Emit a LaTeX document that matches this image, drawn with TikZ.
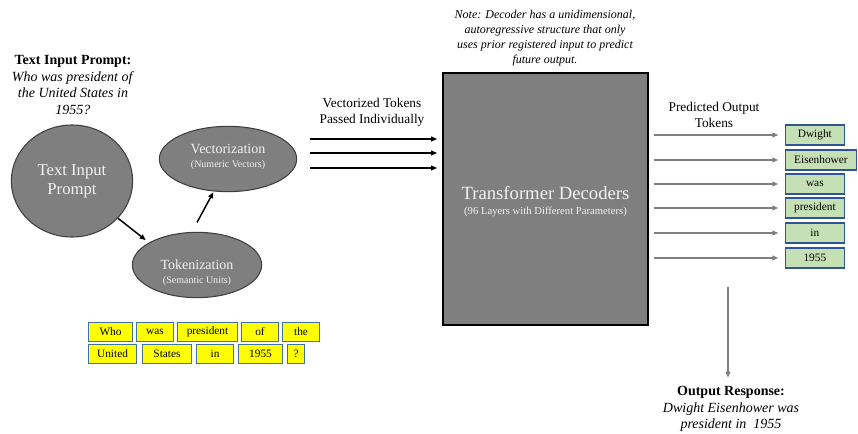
\documentclass[tikz,border=0pt]{standalone}
\usepackage{fontspec}
\setmainfont{Liberation Serif}
\usepackage{tikz}
\usetikzlibrary{arrows.meta,shapes.geometric}
\usepackage{xcolor}
\definecolor{StageGray}{HTML}{7F7F7F}
\definecolor{StageEdge}{HTML}{3F3F3F}
\definecolor{StageText}{HTML}{F2F2F2}
\definecolor{TokenYellow}{HTML}{FFFF00}
\definecolor{TokenEdge}{HTML}{41719C}
\definecolor{OutGreen}{HTML}{C5E0B4}
\definecolor{OutEdge}{HTML}{2F5597}

\begin{document}
\begin{tikzpicture}[x=0.75pt,y=-0.75pt,
    stage/.style={ellipse,draw=StageEdge,fill=StageGray,line width=0.8pt,text=StageText,inner sep=0pt,align=center},
    inword/.style={draw=TokenEdge,fill=TokenYellow,line width=0.8pt,minimum height=14.5pt,inner sep=0pt,anchor=west,font=\fontsize{8.5}{10}\selectfont},
    outword/.style={draw=OutEdge,fill=OutGreen,line width=0.8pt,minimum height=15pt,minimum width=44pt,inner xsep=6.5pt,inner ysep=0pt,anchor=west,font=\fontsize{8.5}{10}\selectfont},
    caption/.style={align=center,font=\fontsize{10.5}{12.4}\selectfont},
    blackarrow/.style={-{Triangle[length=4.5pt,width=3.6pt]},line width=1.1pt},
    grayarrow/.style={-{Triangle[length=4.5pt,width=3.6pt]},draw=StageGray,line width=1.1pt}]
\useasboundingbox (0,0) rectangle (858,434);

\node[caption] (prompt) at (73,85) {\textbf{Text Input Prompt:}\\\textit{Who was president of}\\\textit{the United States in}\\\textit{1955?}};

\node[stage,minimum width=91pt,minimum height=84pt,font=\fontsize{12.5}{14.3}\selectfont] (inp) at (72,181) {Text Input\\Prompt};
\node[stage,minimum width=97pt,minimum height=49pt] (tok) at (197,265) {\rule{0pt}{19pt}{\fontsize{10.5}{12}\selectfont Tokenization}\\[-1pt]{\fontsize{7.5}{9}\selectfont (Semantic Units)}};
\node[stage,minimum width=103pt,minimum height=49pt] (vec) at (228,159) {{\fontsize{10.5}{12}\selectfont Vectorization}\\[-1pt]{\fontsize{7.5}{9}\selectfont (Numeric Vectors)}\\[-7.5pt]};

\draw[blackarrow,shorten >=3pt] (inp.-39) -- (tok.155);
\draw[blackarrow] ([yshift=7pt]tok.north) -- ([xshift=-11pt]vec.south);

\foreach \word/\x/\w [count=\i] in {Who/88/44,was/136/37,president/177/60,of/241/37,the/282/37}
  \node[inword,minimum width=\w*0.75pt] (q\i) at (\x,332) {\word};
\foreach \word/\x/\w [count=\i from 6] in {United/88/48,States/142/49,in/196/37,1955/238/44,?/287/17}
  \node[inword,minimum width=\w*0.75pt] (q\i) at (\x,354) {\word};

\node[align=center,font=\fontsize{9}{11.25}\selectfont\itshape] (note) at (545,38) {Note: Decoder has a unidimensional,\\autoregressive structure that only\\uses prior registered input to predict\\future output.};

\node[draw=black,fill=StageGray,line width=0.8pt,minimum width=153.75pt,minimum height=189pt,text=StageText,align=center] (dec) at (545.5,199)
  {\\[2pt]{\fontsize{14}{16}\selectfont Transformer Decoders}\\[-1pt]{\fontsize{8}{10}\selectfont (96 Layers with Different Parameters)}};

\node[caption,font=\fontsize{10}{12}\selectfont] (vlabel) at (372,112) {Vectorized Tokens\\Passed Individually};
\foreach \y [count=\i] in {139,153,168} {
  \coordinate (vin\i) at (310,\y);
  \draw[blackarrow,shorten >=4pt] (vin\i) -- (vin\i -| dec.west);
}

\node[caption,font=\fontsize{10}{12}\selectfont] (plabel) at (714,115) {Predicted Output\\Tokens};
\foreach \word/\y [count=\i] in {Dwight/135,Eisenhower/160,was/184,president/208,in/233,1955/258} {
  \node[outword] (out\i) at (785,\y) {\word};
  \draw[grayarrow,shorten <=4pt,shorten >=5pt] (dec.east |- out\i.west) -- (out\i.west);
}

\node[caption] (resp) at (731,409) {\textbf{Output Response:}\\\textit{Dwight Eisenhower was}\\\textit{president in~ 1955}};
\coordinate (drop) at (728,287);
\draw[grayarrow,shorten >=3pt] (drop) -- (drop |- resp.north);
\end{tikzpicture}
\end{document}
